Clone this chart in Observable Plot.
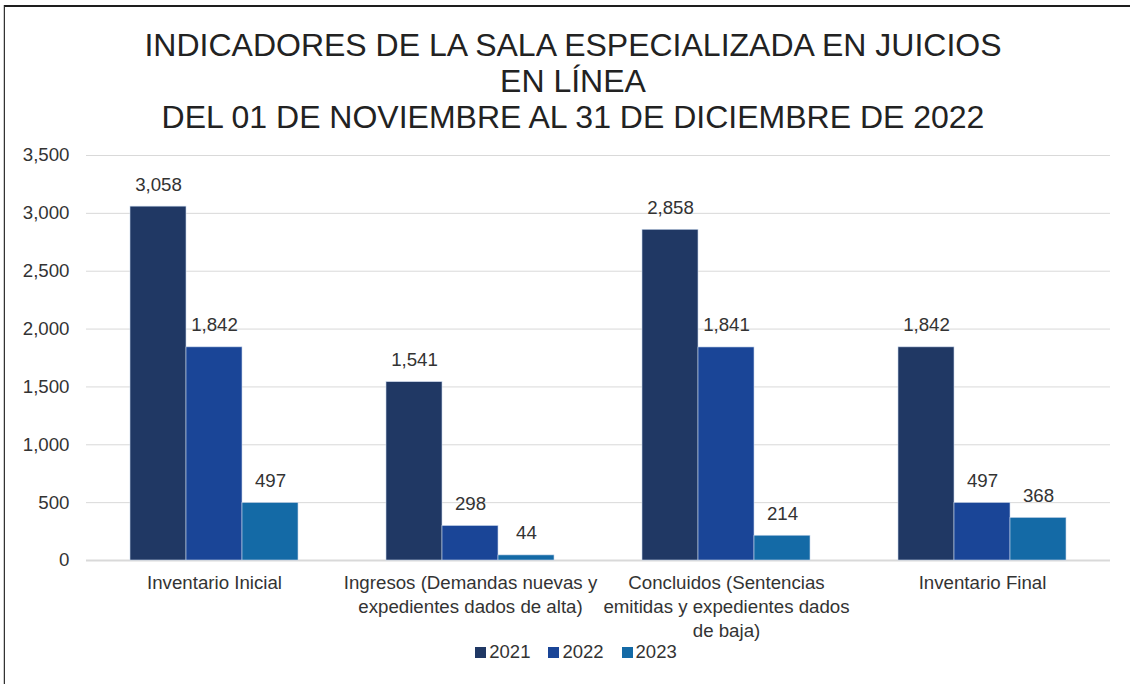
<!DOCTYPE html>
<html>
<head>
<meta charset="utf-8">
<script src="https://cdn.jsdelivr.net/npm/d3@7"></script>
<script src="https://cdn.jsdelivr.net/npm/@observablehq/plot@0.6"></script>
<style>
  html, body { margin: 0; padding: 0; background: #fff; }
  body { width: 1130px; height: 684px; position: relative; overflow: hidden; font-family: "Liberation Sans", Arial, sans-serif; }
  #frame { position: absolute; left: 4px; top: 5px; width: 1140px; height: 700px; border-top: 2px solid #1e1e1e; border-left: 1.5px solid #333; box-shadow: -1px 0 0 #ccc; }
  #title { position: absolute; left: 5px; width: 1136px; top: 27px; text-align: center; font-size: 32px; line-height: 36px; color: #222; }
  #chart { position: absolute; left: 0; top: 140px; }
  #legend { position: absolute; left: 0; width: 1152px; top: 641px; display: flex; justify-content: center; gap: 18px; font-size: 18.5px; color: #333; }
  .item { display: flex; align-items: center; gap: 3px; }
  .sw { width: 11px; height: 11px; display: inline-block; }
</style>
</head>
<body>
<div id="frame"></div>
<div id="title">INDICADORES DE LA SALA ESPECIALIZADA EN JUICIOS<br>EN LÍNEA<br>DEL 01 DE NOVIEMBRE AL 31 DE DICIEMBRE DE 2022</div>
<div id="chart"></div>
<div id="legend"></div>
<script>
const categories = [
  "Inventario Inicial",
  "Ingresos (Demandas nuevas y\nexpedientes dados de alta)",
  "Concluidos (Sentencias\nemitidas y expedientes dados\nde baja)",
  "Inventario Final"
];
const years = ["2021", "2022", "2023"];
const values2021 = [3058, 1541, 2858, 1842];
const values2022 = [1842, 298, 1841, 497];
const values2023 = [497, 44, 214, 368];
const yTicks = [0, 500, 1000, 1500, 2000, 2500, 3000, 3500];
const colors = ["#203864", "#1a4597", "#146aa6"];

const series = [values2021, values2022, values2023];
const data = [];
categories.forEach((c, i) => {
  years.forEach((y, j) => data.push({cat: c, year: y, value: series[j][i]}));
});

const fmt = d3.format(",");
const plot = Plot.plot({
  width: 1130,
  height: 520,
  marginLeft: 85,
  marginRight: 20,
  marginTop: 15,
  marginBottom: 100,
  style: {fontFamily: "'Liberation Sans', Arial, sans-serif", fontSize: "18.7px", color: "#404040", background: "transparent"},
  fx: {domain: categories, paddingInner: 0, paddingOuter: 0, label: null},
  x: {domain: years, paddingInner: 0, paddingOuter: 0.75, axis: null},
  y: {domain: [0, 3500], label: null},
  color: {domain: years, range: colors},
  marks: [
    Plot.gridY(yTicks, {stroke: "#d9d9d9", strokeOpacity: 1, strokeWidth: 1}),
    Plot.ruleY([0], {stroke: "#d9d9d9", strokeWidth: 2}),
    Plot.barY(data, {fx: "cat", x: "year", y: "value", fill: "year", stroke: "#c8d6ea", strokeWidth: 0.6}),
    Plot.text(data, {fx: "cat", x: "year", y: "value", text: d => fmt(d.value), dy: -22, fontSize: 18.7, fill: "#333"}),
    Plot.axisY(yTicks, {tickSize: 0, tickPadding: 17, tickFormat: fmt, fontSize: 18.7, fill: "#333", label: null}),
    Plot.axisFx({anchor: "bottom", tickSize: 0, tickPadding: 11, lineHeight: 1.3, fontSize: 18.7, fill: "#333", label: null})
  ]
});
document.getElementById("chart").appendChild(plot);

const legend = document.getElementById("legend");
years.forEach((y, i) => {
  const item = document.createElement("div");
  item.className = "item";
  const sw = document.createElement("span");
  sw.className = "sw";
  sw.style.background = colors[i];
  const t = document.createElement("span");
  t.textContent = y;
  item.appendChild(sw);
  item.appendChild(t);
  legend.appendChild(item);
});
</script>
</body>
</html>
